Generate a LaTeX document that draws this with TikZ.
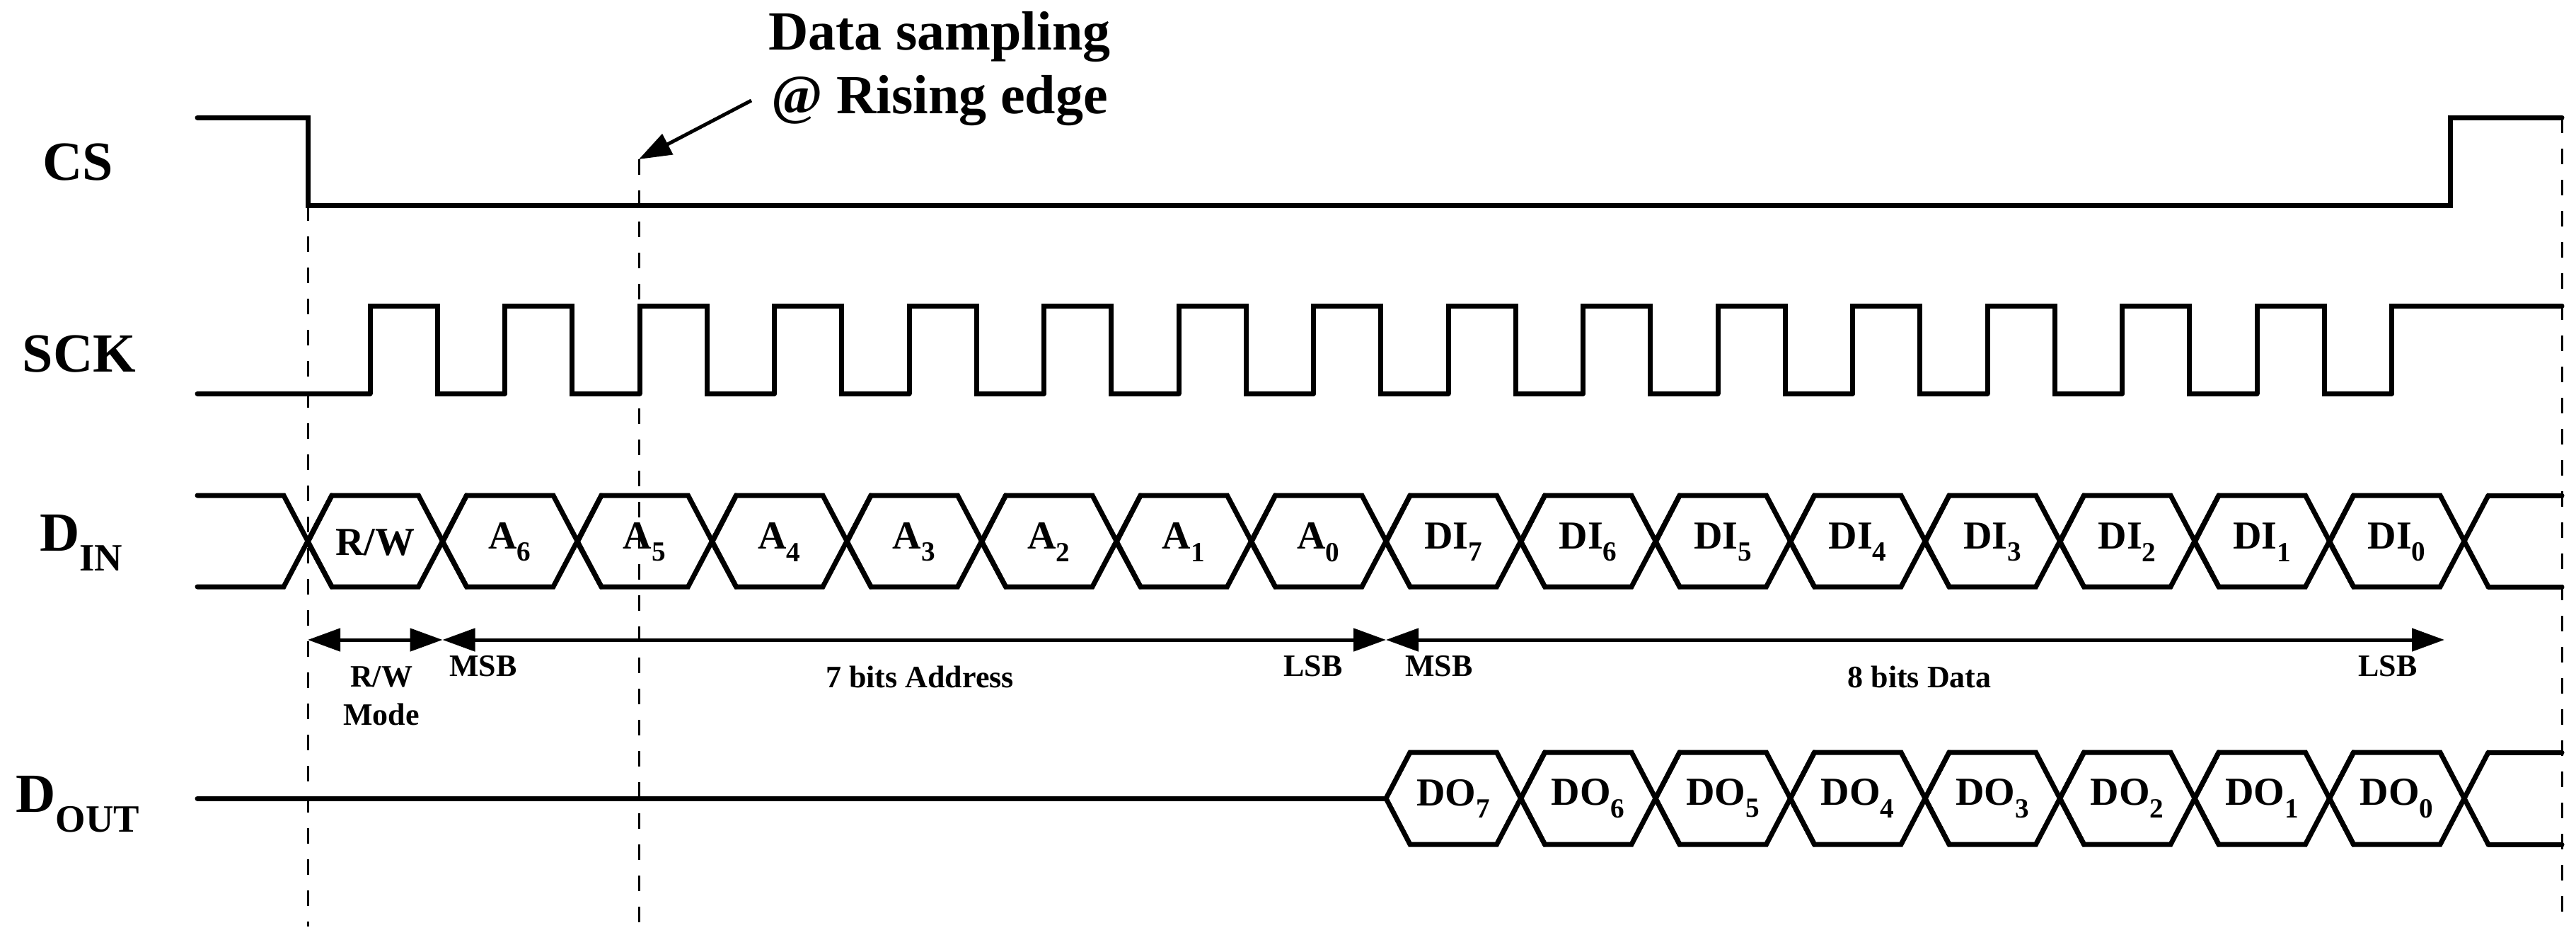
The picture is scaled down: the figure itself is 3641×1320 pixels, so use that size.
\documentclass[tikz,border=0pt]{standalone}
\usepackage{fontspec}
\setmainfont{Liberation Serif}
\usetikzlibrary{arrows.meta}
\begin{document}
\begin{tikzpicture}[x=1pt,y=-1pt,
  sig/.style={line width=7pt,line join=miter,line cap=round},
  dsh/.style={line width=3pt,dash pattern=on 22pt off 22pt},
  big/.style={font=\fontsize{78}{90}\selectfont\bfseries},
  hl/.style={font=\fontsize{56}{60}\selectfont\bfseries},
  sl/.style={font=\fontsize{44}{54}\selectfont\bfseries,align=center},
  dim/.style={line width=5pt,{Triangle[length=46pt,width=32pt]}-{Triangle[length=46pt,width=32pt]}}]
\useasboundingbox (0,0) rectangle (3641,1320);
\def\P{190.5}
\def\H{34}
% labels
\node[big] (cs) at (110,229) {CS};
\node[big] (sck) at (112,500) {SCK};
\node[big] (din) at (115,767) {D\textsubscript{IN}};
\node[big] (dout) at (110,1136) {D\textsubscript{OUT}};
\node[big,align=center] (ds) at (1328,97) {Data sampling\\@ Rising edge};
% CS
\draw[sig] (279,166) -- (435,166) -- (435,290) -- (3463,290) -- (3463,166) -- (3621,166);
% SCK
\draw[sig] (279,556) -- (523,556);
\foreach \k in {0,...,14} {
  \pgfmathsetmacro\r{523+\k*\P}\pgfmathsetmacro\f{618+\k*\P}\pgfmathsetmacro\n{523+(\k+1)*\P}
  \draw[sig] (\r,556) -- (\r,432) -- (\f,432) -- (\f,556) -- (\n,556);}
\draw[sig] ({523+15*\P},556) -- ({523+15*\P},432) -- (3621,432);
% DIN
\draw[sig] (279,700) -- ({435-\H},700) -- ({435+\H},829);
\draw[sig] (279,829) -- ({435-\H},829) -- ({435+\H},700);
\foreach \k in {0,...,15} {
  \pgfmathsetmacro\a{435+\k*\P}\pgfmathsetmacro\b{435+(\k+1)*\P}
  \draw[sig] (\a,766) -- (\a+\H,700) -- (\b-\H,700) -- (\b+\H,829);
  \draw[sig] (\a,766) -- (\a+\H,829) -- (\b-\H,829) -- (\b+\H,700);}
\draw[sig] ({435+16*\P+\H},700) -- (3621,700);
\draw[sig] ({435+16*\P+\H},829) -- (3621,829);
% DOUT
\draw[sig] (279,1128) -- ({435+8*\P},1128);
\foreach \k in {8,...,15} {
  \pgfmathsetmacro\a{435+\k*\P}\pgfmathsetmacro\b{435+(\k+1)*\P}
  \draw[sig] (\a,1128) -- (\a+\H,1063) -- (\b-\H,1063) -- (\b+\H,1193);
  \draw[sig] (\a,1128) -- (\a+\H,1193) -- (\b-\H,1193) -- (\b+\H,1063);}
\draw[sig] ({435+16*\P+\H},1063) -- (3621,1063);
\draw[sig] ({435+16*\P+\H},1193) -- (3621,1193);
% bit labels
\foreach \t [count=\i from 0] in {R/W,A\textsubscript{6},A\textsubscript{5},A\textsubscript{4},A\textsubscript{3},A\textsubscript{2},A\textsubscript{1},A\textsubscript{0},DI\textsubscript{7},DI\textsubscript{6},DI\textsubscript{5},DI\textsubscript{4},DI\textsubscript{3},DI\textsubscript{2},DI\textsubscript{1},DI\textsubscript{0}}
  \node[hl] (b\i) at ({435+(\i+0.5)*\P},766) {\t};
\foreach \t [count=\i from 8] in {7,6,5,4,3,2,1,0}
  \node[hl] (o\i) at ({435+(\i+0.5)*\P},1128) {DO\textsubscript{\t}};
% dashed
\coordinate (d1t) at (435,290); \coordinate (d1b) at (435,1309);
\coordinate (d2t) at (903,225); \coordinate (d2b) at (903,1309);
\coordinate (d3t) at (3621,166); \coordinate (d3b) at (3621,1309);
\draw[dsh] (d1t) -- (d1b);
\draw[dsh] (d2t) -- (d2b);
\draw[dsh] (d3t) -- (d3b);
\coordinate (as) at (1062,142);
\draw[line width=5pt,-{Triangle[length=46pt,width=32pt]}] (as) -- (d2t);
% dimension arrows
\coordinate (a0) at (435,904); \coordinate (a1) at ({435+\P},904);
\coordinate (a2) at ({435+8*\P},904); \coordinate (a3) at (3455,904);
\draw[dim] (a0) -- (a1);
\draw[dim] (a1) -- (a2);
\draw[dim] (a2) -- (a3);
\node[sl] (rwm) at (539,983) {R/W\\Mode};
\node[sl] (m1) at (683,941) {MSB};
\node[sl] (ad) at (1300,956) {7 bits Address};
\node[sl] (l1) at (1856,941) {LSB};
\node[sl] (m2) at (2034,941) {MSB};
\node[sl] (dd) at (2713,956) {8 bits Data};
\node[sl] (l2) at (3375,941) {LSB};
\end{tikzpicture}
\end{document}
